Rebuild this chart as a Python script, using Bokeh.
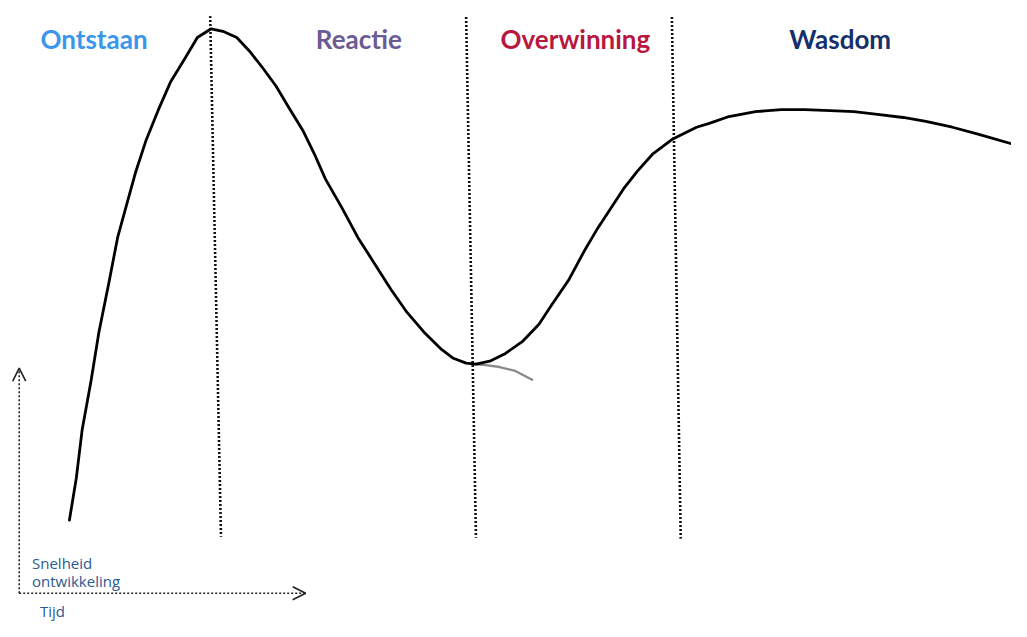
from bokeh.plotting import figure
from bokeh.models import Range1d, Arrow, OpenHead
from bokeh.core.properties import value
from bokeh.embed import file_html
from bokeh.resources import INLINE

# Main development curve (x, y in picture units, y grows downward)
curve_x = [70, 77, 83, 92, 100, 110, 119, 128, 137, 148, 160, 173, 187, 200,
           214, 227, 240, 253, 267, 280, 293, 307, 320, 330, 347, 363, 380, 397,
           413, 430, 447, 460, 473, 483, 497, 513, 530, 547, 560, 577, 593, 607,
           620, 633, 647, 663, 683, 707, 720, 740, 767, 793, 817, 843, 867, 893,
           917, 940, 967, 993, 1027]
curve_y = [533, 490, 440, 390, 340, 290, 243, 210, 177, 143, 113, 83, 60, 38,
           29, 32, 38, 52, 70, 88, 110, 133, 160, 183, 213, 243, 270, 297,
           320, 340, 357, 367, 372, 373, 370, 362, 350, 332, 312, 287, 257, 233,
           213, 193, 175, 157, 142, 130, 126, 119, 114, 112, 112, 113, 114, 117,
           120, 124, 130, 137, 147]

# Faded alternative branch after the dip
branch_x = [480, 493, 507, 523, 540]
branch_y = [373, 374, 376, 380, 389]

# Phase separators (top x, bottom x)
sep_top_x = [213, 473, 682]
sep_bot_x = [224, 483, 691]
sep_top_y = [16, 17, 17]
sep_bot_y = [550, 551, 552]

# Phase labels
phases = ["Ontstaan", "Reactie", "Overwinning", "Wasdom"]
phase_x = [95, 364, 584, 853]
phase_colors = ["#3a96ea", "#6b5a93", "#b8173f", "#16306c"]

# Axis labels
axis_labels = ["Snelheid", "ontwikkeling", "Tijd"]
axis_label_x = [32, 32, 40]
axis_label_y = [577, 595, 626]

p = figure(width=1011, height=621, output_backend="svg", toolbar_location=None,
           x_range=Range1d(0, 1027), y_range=Range1d(637, 0), min_border=0)
p.axis.visible = False
p.grid.visible = False
p.outline_line_color = None
p.background_fill_color = "white"
p.border_fill_color = "white"

# separators
for tx, bx, ty, by in zip(sep_top_x, sep_bot_x, sep_top_y, sep_bot_y):
    p.line([tx, bx], [ty, by], line_color="#111111", line_width=2.6, line_dash="2 2")

# branch
p.line(branch_x, branch_y, line_color="#8a8a8a", line_width=2.4, line_cap="round",
       line_join="round")

# main curve
p.line(curve_x, curve_y, line_color="black", line_width=2.8, line_join="round",
       line_cap="round")

# axes arrows
for xs, ys, xe, ye in [(19, 608, 19, 377), (19, 608, 310, 608)]:
    p.add_layout(Arrow(end=OpenHead(size=13, line_width=1.6, line_color="#222222"),
                       x_start=xs, y_start=ys, x_end=xe, y_end=ye,
                       line_dash="2 2", line_width=1.6, line_color="#222222"))

# phase labels
for name, x, c in zip(phases, phase_x, phase_colors):
    p.text(x=[x], y=[39], text=[name], text_color=c, text_font=value("Lato"),
           text_font_style="bold", text_font_size="26px", text_align="center",
           text_baseline="alphabetic")

p.text(x=axis_label_x, y=axis_label_y, text=axis_labels, text_color="#2b5a94",
       text_font=value("Open Sans"), text_font_size="15px", text_align="left",
       text_baseline="alphabetic")

open("out.html", "w").write(file_html(p, INLINE))
